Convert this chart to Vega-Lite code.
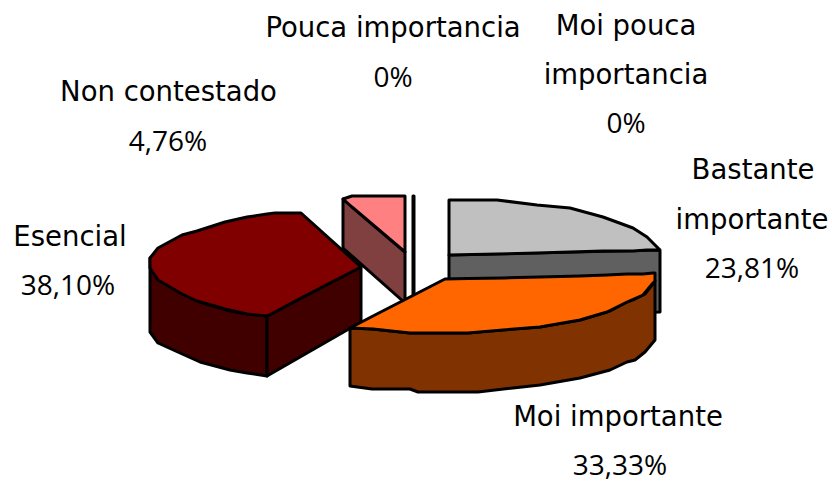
{"$schema":"https://vega.github.io/schema/vega-lite/v6.json","width":832,"height":484,"padding":0,"autosize":{"type":"fit","contains":"padding"},"background":"white","config":{"view":{"stroke":null}},
"datasets":{"faces":[
{"face":"Bastante side","x":449,"y":255,"y2":317},{"face":"Bastante side","x":660,"y":250,"y2":312},
{"face":"Bastante top","x":449,"y":200,"y2":255},{"face":"Bastante top","x":497,"y":200,"y2":254},{"face":"Bastante top","x":537,"y":205,"y2":253},{"face":"Bastante top","x":570,"y":208,"y2":252},{"face":"Bastante top","x":603,"y":217,"y2":251},{"face":"Bastante top","x":633,"y":228,"y2":251},{"face":"Bastante top","x":647,"y":237,"y2":250},{"face":"Bastante top","x":659,"y":249,"y2":250},
{"face":"Non contestado side","x":343,"y":199,"y2":248},{"face":"Non contestado side","x":405,"y":252,"y2":303},
{"face":"Non contestado top","x":343,"y":199,"y2":199},{"face":"Non contestado top","x":352,"y":196,"y2":207},{"face":"Non contestado top","x":405,"y":196,"y2":252},
{"face":"Pouca importancia","x":413,"y":196,"y2":300},{"face":"Pouca importancia","x":414,"y":196,"y2":300},
{"face":"Esencial left","x":150,"y":258,"y2":332},{"face":"Esencial left","x":158,"y":278,"y2":343},{"face":"Esencial left","x":180,"y":293,"y2":353},{"face":"Esencial left","x":200,"y":302,"y2":362},{"face":"Esencial left","x":230,"y":311,"y2":370},{"face":"Esencial left","x":247,"y":314,"y2":373},{"face":"Esencial left","x":267,"y":316,"y2":376},
{"face":"Esencial right","x":267,"y":316,"y2":376},{"face":"Esencial right","x":361,"y":267,"y2":322},
{"face":"Esencial top","x":150,"y":258,"y2":268},{"face":"Esencial top","x":158,"y":248,"y2":280},{"face":"Esencial top","x":182,"y":235,"y2":294},{"face":"Esencial top","x":197,"y":231,"y2":301},{"face":"Esencial top","x":225,"y":222,"y2":309},{"face":"Esencial top","x":247,"y":217,"y2":314},{"face":"Esencial top","x":267,"y":214,"y2":316},{"face":"Esencial top","x":275,"y":213,"y2":312},{"face":"Esencial top","x":301,"y":213,"y2":298},{"face":"Esencial top","x":361,"y":267,"y2":267},
{"face":"Moi importante side","x":350,"y":328,"y2":386},{"face":"Moi importante side","x":372,"y":329,"y2":389},{"face":"Moi importante side","x":410,"y":333,"y2":389},{"face":"Moi importante side","x":418,"y":333,"y2":392},{"face":"Moi importante side","x":468,"y":333,"y2":392},{"face":"Moi importante side","x":478,"y":332,"y2":392},{"face":"Moi importante side","x":513,"y":329,"y2":388},{"face":"Moi importante side","x":540,"y":327,"y2":385},{"face":"Moi importante side","x":580,"y":320,"y2":378},{"face":"Moi importante side","x":610,"y":311,"y2":370},{"face":"Moi importante side","x":627,"y":302,"y2":362},{"face":"Moi importante side","x":635,"y":299,"y2":360},{"face":"Moi importante side","x":645,"y":294,"y2":352},{"face":"Moi importante side","x":655,"y":281,"y2":340},
{"face":"Moi importante top","x":350,"y":328,"y2":328},{"face":"Moi importante top","x":373,"y":316,"y2":329},{"face":"Moi importante top","x":410,"y":297,"y2":333},{"face":"Moi importante top","x":445,"y":279,"y2":333},{"face":"Moi importante top","x":468,"y":278.5,"y2":333},{"face":"Moi importante top","x":503,"y":278,"y2":330},{"face":"Moi importante top","x":540,"y":277,"y2":327},{"face":"Moi importante top","x":580,"y":276,"y2":320},{"face":"Moi importante top","x":607,"y":275,"y2":312},{"face":"Moi importante top","x":627,"y":274,"y2":302},{"face":"Moi importante top","x":643,"y":274,"y2":295},{"face":"Moi importante top","x":653,"y":273,"y2":283},{"face":"Moi importante top","x":655,"y":273,"y2":281}
],
"names":[
{"t":"Pouca importancia","x":393,"y":29},
{"t":"Moi pouca","x":626,"y":27},{"t":"importancia","x":626,"y":76},
{"t":"Non contestado","x":168.5,"y":93},
{"t":"Bastante","x":753,"y":171},{"t":"importante","x":752,"y":221},
{"t":"Esencial","x":70,"y":238},
{"t":"Moi importante","x":618,"y":418}
],
"shares":[
{"t":"0%","x":393,"y":79},{"t":"0%","x":626,"y":125},{"t":"4,76%","x":168,"y":143},{"t":"23,81%","x":752,"y":270},{"t":"38,10%","x":68,"y":287},{"t":"33,33%","x":620,"y":467}
]},
"layer":[
{"data":{"name":"faces"},"mark":{"type":"area","stroke":"black","strokeWidth":3,"strokeJoin":"round","opacity":1,"fillOpacity":1},
"encoding":{
"x":{"field":"x","type":"quantitative","scale":{"domain":[0,832],"nice":false,"zero":false},"axis":null},
"y":{"field":"y","type":"quantitative","scale":{"domain":[484,0],"nice":false,"zero":false},"axis":null,"stack":null},
"y2":{"field":"y2"},
"color":{"field":"face","type":"nominal","legend":null,"scale":{"domain":["Bastante side","Bastante top","Non contestado side","Non contestado top","Pouca importancia","Esencial left","Esencial right","Esencial top","Moi importante side","Moi importante top"],"range":["#606060","#C0C0C0","#804040","#FF8080","#000000","#400000","#400000","#800000","#803300","#FF6600"]}}
}},
{"data":{"name":"names"},"mark":{"type":"text","font":"DejaVu Sans","fontSize":27.5,"align":"center","baseline":"middle","color":"#000000"},
"encoding":{
"x":{"field":"x","type":"quantitative","scale":{"domain":[0,832],"nice":false,"zero":false},"axis":null},
"y":{"field":"y","type":"quantitative","scale":{"domain":[484,0],"nice":false,"zero":false},"axis":null},
"text":{"field":"t"}
}},
{"data":{"name":"shares"},"mark":{"type":"text","font":"Open Sans","fontSize":28,"align":"center","baseline":"middle","color":"#000000"},
"encoding":{
"x":{"field":"x","type":"quantitative","scale":{"domain":[0,832],"nice":false,"zero":false},"axis":null},
"y":{"field":"y","type":"quantitative","scale":{"domain":[484,0],"nice":false,"zero":false},"axis":null},
"text":{"field":"t"}
}}
]}
